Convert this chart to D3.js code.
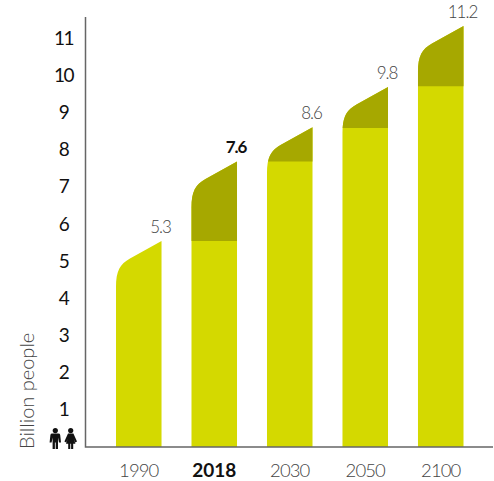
<!DOCTYPE html>
<html>
<head>
<meta charset="utf-8">
<script src="https://cdn.jsdelivr.net/npm/d3@7"></script>
<style>
  html, body { margin: 0; padding: 0; background: #fff; }
  svg { display: block; }
  text { font-family: Lato, "Open Sans", sans-serif; }
</style>
</head>
<body>
<svg id="chart"></svg>
<script>
// values
const years = ['1990', '2018', '2030', '2050', '2100'];
const yTicks = [1, 2, 3, 4, 5, 6, 7, 8, 9, 10, 11];
const totalLabels = ['5.3', '7.6', '8.6', '9.8', '11.2'];
const topValues = [5.54, 7.68, 8.6, 9.68, 11.32];
const splitValues = [5.54, 5.54, 7.68, 8.58, 9.7];
const highlightYear = '2018';

const width = 494;
const height = 481;

const svg = d3.select('#chart').attr('width', width).attr('height', height);

const x = d3.scaleBand()
  .domain(years)
  .range([116, 463.5])
  .paddingInner(0.397)
  .paddingOuter(0);

const y = d3.scaleLinear()
  .domain([0, 11])
  .range([447, 38]);

const axisX = 85.5;
const axisTop = 17;

// bar outline: flat bottom, rounded left shoulder, sloping top
function barPath(i) {
  const left = x(years[i]);
  const right = left + x.bandwidth();
  const top = y(topValues[i]);
  const p = d3.path();
  p.moveTo(left, y(0));
  p.lineTo(left, top + 46);
  p.bezierCurveTo(left, top + 30, left + 4, top + 23, left + 14, top + 17.5);
  p.lineTo(right, top);
  p.lineTo(right, y(0));
  p.closePath();
  return p.toString();
}

const defs = svg.append('defs');
years.forEach((yr, i) => {
  defs.append('clipPath').attr('id', 'above-' + yr)
    .append('rect')
    .attr('x', x(yr) - 2)
    .attr('y', 0)
    .attr('width', x.bandwidth() + 4)
    .attr('height', y(splitValues[i]));
});

svg.append('g').selectAll('path')
  .data(years)
  .enter()
  .append('path')
  .attr('d', (d, i) => barPath(i))
  .attr('fill', '#d4d900');

svg.append('g').selectAll('path')
  .data(years)
  .enter()
  .append('path')
  .attr('d', (d, i) => barPath(i))
  .attr('clip-path', d => `url(#above-${d})`)
  .attr('fill', '#a6a800');

// axes
const yAxis = d3.axisLeft(y).tickValues(yTicks).tickSize(0).tickPadding(22);
const yG = svg.append('g')
  .attr('transform', `translate(${axisX},0)`)
  .call(yAxis);
yG.select('.domain').remove();
yG.selectAll('text')
  .attr('text-anchor', 'middle')
  .attr('fill', '#111')
  .style('font-size', '19px')
  .style('font-weight', 400)
  .style('letter-spacing', '-1.5px');

const xAxis = d3.axisBottom(x).tickSize(0).tickPadding(17);
const xG = svg.append('g')
  .attr('transform', `translate(0,${y(0)})`)
  .call(xAxis);
xG.select('.domain').remove();
xG.selectAll('text')
  .attr('fill', d => d === highlightYear ? '#111' : '#444')
  .style('font-size', d => d === highlightYear ? '19px' : '18.5px')
  .style('font-weight', d => d === highlightYear ? 700 : 300)
  .style('letter-spacing', d => d === highlightYear ? '0' : '-0.9px');

svg.append('path')
  .attr('d', `M${axisX},${axisTop}V${y(0)}H${width - 1}`)
  .attr('fill', 'none')
  .attr('stroke', '#666')
  .attr('stroke-width', 1.5);

// value labels sit on the right corner of each bar
svg.append('g').selectAll('text')
  .data(totalLabels)
  .enter()
  .append('text')
  .attr('x', (d, i) => x(years[i]) + x.bandwidth() - 1)
  .attr('y', (d, i) => y(topValues[i]) - 8)
  .attr('text-anchor', 'middle')
  .attr('fill', (d, i) => years[i] === highlightYear ? '#111' : '#444')
  .style('font-size', '17px')
  .style('font-weight', (d, i) => years[i] === highlightYear ? 700 : 300)
  .style('letter-spacing', '-1px')
  .text(d => d);

svg.append('text')
  .attr('transform', 'translate(34,449) rotate(-90)')
  .attr('fill', '#444')
  .style('font-size', '20px')
  .style('font-weight', 300)
  .text('Billion people');

// man and woman pictograms
const icons = svg.append('g').attr('fill', '#111');
icons.append('circle').attr('cx', 55.3).attr('cy', 430.6).attr('r', 2.6);
icons.append('path')
  .attr('d', 'M50.4,435 Q50.6,433.6 52.2,433.6 H58.4 Q60,433.6 60.2,435 L61,442.5 H59 L58,437.5 V449 H55.7 V442.5 H54.9 V449 H52.6 V437.5 L51.6,442.5 H49.6 Z');
icons.append('circle').attr('cx', 70.7).attr('cy', 430.6).attr('r', 2.6);
icons.append('path')
  .attr('d', 'M68,433.6 H73.4 L77,441.5 L75.2,442.4 L73.6,438.4 L75.4,443.8 H73.2 V449 H71.1 V443.8 H70.3 V449 H68.2 V443.8 H66 L67.8,438.4 L66.2,442.4 L64.4,441.5 Z');
</script>
</body>
</html>
